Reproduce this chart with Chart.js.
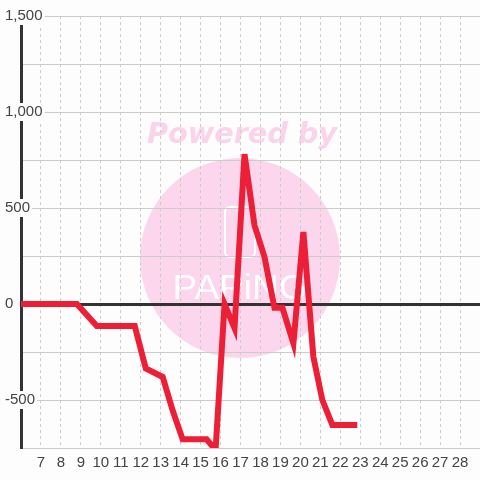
<!DOCTYPE html>
<html>
<head>
<meta charset="utf-8">
<script src="https://cdn.jsdelivr.net/npm/chart.js@4/dist/chart.umd.min.js"></script>
<style>
  html, body { margin: 0; padding: 0; background: #fdfdfd; }
  #wrap { width: 480px; height: 480px; }
</style>
</head>
<body>
<div id="wrap"><canvas id="chart"></canvas></div>
<script>
// values
const xValues = [6, 8.8, 9.8, 11.7, 12.25, 13.1, 13.6, 14.1, 15.3, 15.75, 16.2, 16.7, 17.2, 17.7, 18.2, 18.7, 19.1, 19.65, 20.15, 20.65, 21.1, 21.6, 22.85];
const yValues = [0, 0, -115, -115, -335, -380, -555, -705, -705, -760, 0, -125, 780, 410, 245, -20, -20, -205, 375, -275, -500, -630, -630];
const xTicks = [7, 8, 9, 10, 11, 12, 13, 14, 15, 16, 17, 18, 19, 20, 21, 22, 23, 24, 25, 26, 27, 28];
const yLabelValues = [-500, 0, 500, 1000, 1500];

const BG = "#fdfdfd";
const RED = "#ed1f36";
const DARK = "#333333";
const GRID = "#cccccc";
const FONT = "'Liberation Sans', Arial, sans-serif";

const points = xValues.map((x, i) => ({ x, y: yValues[i] }));

// background + faint watermark, drawn under the grid
const watermark = {
    id: "watermark",
    beforeDraw(chart){
        const ctx = chart.ctx;
        ctx.save();
        ctx.fillStyle = BG;
        ctx.fillRect(0, 0, chart.width, chart.height);

        const cx = 240, cy = 258;
        ctx.fillStyle = "#fbd6ec";
        ctx.beginPath();
        ctx.arc(cx, cy, 100, 0, Math.PI * 2);
        ctx.fill();

        ctx.fillStyle = "#fbd3ea";
        ctx.font = "italic bold 28px 'DejaVu Sans', sans-serif";
        ctx.textAlign = "center";
        ctx.textBaseline = "middle";
        const w = ctx.measureText("Powered by").width;
        ctx.save();
        ctx.translate(242, 136);
        ctx.scale(190 / w, 1);
        ctx.fillText("Powered by", 0, 0);
        ctx.restore();

        ctx.strokeStyle = "#ffffff";
        ctx.lineWidth = 2;
        ctx.beginPath();
        ctx.roundRect(225, 207, 30, 50, 5);
        ctx.stroke();

        ctx.fillStyle = "#ffffff";
        ctx.font = "32px 'Liberation Sans', sans-serif";
        const lw = ctx.measureText("PAPiNG").width;
        ctx.save();
        ctx.translate(240, 289);
        ctx.scale(135 / lw, 1.1);
        ctx.fillText("PAPiNG", 0, 0);
        ctx.restore();
        ctx.restore();
    }
};

new Chart(document.getElementById("chart"), {
    type: "line",
    data: {
        datasets: [{
            data: points,
            borderColor: RED,
            borderWidth: 6,
            pointRadius: 0,
            fill: false,
            tension: 0
        }]
    },
    options: {
        responsive: true,
        maintainAspectRatio: false,
        animation: false,
        events: [],
        layout: { padding: { top: 16, left: 5, right: 0, bottom: 0 } },
        plugins: { legend: { display: false }, tooltip: { enabled: false } },
        scales: {
            x: {
                type: "linear",
                min: 6,
                max: 29,
                afterFit: s => { s.height = 32; s.paddingLeft = 0; s.paddingRight = 0; },
                afterBuildTicks: s => { s.ticks = [6, ...xTicks, 29].map(v => ({ value: v })); },
                grid: {
                    drawTicks: false,
                    color: c => (c.tick && (c.tick.value === 6 || c.tick.value === 29)) ? "rgba(0,0,0,0)" : GRID,
                    lineWidth: 1
                },
                border: { display: false, dash: [3, 3] },
                ticks: {
                    autoSkip: false,
                    maxRotation: 0,
                    padding: 6,
                    color: "#444",
                    font: { family: FONT, size: 15 },
                    callback: v => xTicks.includes(v) ? String(v) : ""
                }
            },
            y: {
                min: -750,
                max: 1500,
                afterFit: s => { s.width = 16; s.paddingTop = 0; s.paddingBottom = 0; },
                grid: {
                    drawTicks: false,
                    color: c => (c.tick && c.tick.value === 0) ? DARK : GRID,
                    lineWidth: c => (c.tick && c.tick.value === 0) ? 3 : 1
                },
                border: { display: true, color: DARK, width: 3 },
                ticks: {
                    stepSize: 250,
                    autoSkip: false,
                    mirror: true,
                    padding: -16,
                    z: 1,
                    color: "#444",
                    font: { family: FONT, size: 15 },
                    showLabelBackdrop: c => !!(c.tick && yLabelValues.includes(c.tick.value)),
                    backdropColor: BG,
                    backdropPadding: { top: 0, bottom: 0, left: 2, right: 2 },
                    callback: v => yLabelValues.includes(v) ? v.toLocaleString("en-US") : ""
                }
            }
        }
    },
    plugins: [watermark]
});
</script>
</body>
</html>
